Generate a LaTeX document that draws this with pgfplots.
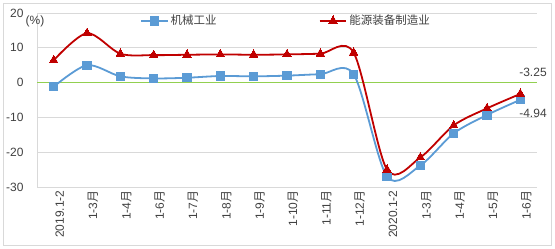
\documentclass[border=0pt]{standalone}
\usepackage{pgfplots}
\pgfplotsset{compat=1.18}
\usepackage{fontspec}
\setmainfont{Liberation Sans}
\newfontfamily\cjk{Noto Sans CJK SC}
\definecolor{jx}{HTML}{5B9BD5}
\definecolor{ny}{HTML}{C00000}
\definecolor{gridc}{HTML}{D9D9D9}
\definecolor{zeroc}{HTML}{92D050}
\definecolor{txt}{HTML}{404040}
\newcommand\yue{{\cjk 月}}
\begin{document}
\begin{tikzpicture}
\useasboundingbox (-37pt,-62pt) rectangle (518pt,187pt);
\draw[gridc, line width=0.8pt] (-34pt,-58pt) rectangle (514pt,184pt);
\begin{axis}[
  at={(0pt,0pt)}, anchor=south west,
  scale only axis, width=500pt, height=174pt,
  xmin=-0.5, xmax=14.5, ymin=-30, ymax=20,
  xtick={0,...,14},
  xticklabels={2019.1-2,1-3\yue,1-4\yue,1-6\yue,1-7\yue,1-8\yue,1-9\yue,1-10\yue,1-11\yue,1-12\yue,2020.1-2,1-3\yue,1-4\yue,1-5\yue,1-6\yue},
  ytick={-30,-20,...,20},
  yticklabels={-30,-20,-10,0,10,20},
  major tick length=0pt,
  axis x line*=bottom, axis y line*=left,
  axis line style={draw=gridc, line width=0.8pt},
  ymajorgrids, grid style={draw=gridc, line width=0.8pt},
  tick label style={font=\fontsize{12}{14}\selectfont, text=txt},
  xticklabel style={rotate=90, anchor=east},
  xtick style={draw=none},
  x tick label style={yshift=-6pt},
  yticklabel style={xshift=-10pt},
  clip=false,
  legend columns=2,
  legend style={draw=none, fill=none, at={(0.498,0.955)}, anchor=center,
    font=\fontsize{11.5}{13}\selectfont\cjk, text=txt,
    /tikz/every even column/.append style={column sep=100pt}},
  legend image code/.code={\draw[mark repeat=2,mark phase=2] plot coordinates {(0cm,0cm) (0.47cm,0cm) (0.94cm,0cm)};},
]
\addplot[zeroc, line width=1.2pt, forget plot] coordinates {(-0.5,0) (14.5,0)};
\addplot[jx, line width=1.8pt, smooth, tension=0.5, mark=square*, mark size=4.2pt, mark options={fill=jx, draw=jx, line width=0pt}]
 coordinates {(0,-1.2) (1,5.0) (2,1.8) (3,1.2) (4,1.4) (5,1.9) (6,1.8) (7,2.0) (8,2.4) (9,2.4) (10,-27.0) (11,-23.8) (12,-14.6) (13,-9.3) (14,-4.94)};
\addlegendentry{机械工业}
\addplot[ny, line width=1.8pt, smooth, tension=0.5, mark=triangle*, mark size=5pt, mark options={fill=ny, draw=ny, line width=0pt}]
 coordinates {(0,6.4) (1,14.2) (2,8.3) (3,7.9) (4,8.0) (5,8.1) (6,8.0) (7,8.1) (8,8.3) (9,8.6) (10,-25.0) (11,-21.5) (12,-12.3) (13,-7.4) (14,-3.25)};
\addlegendentry{能源装备制造业}
\node[font=\fontsize{12}{14}\selectfont, text=txt] at (axis cs:-0.56,17.5) {(\%)};
\node[font=\fontsize{12}{14}\selectfont, text=txt] at (axis cs:14.38,2.9) {-3.25};
\node[font=\fontsize{12}{14}\selectfont, text=txt] at (axis cs:14.38,-8.7) {-4.94};
\end{axis}
\end{tikzpicture}
\end{document}
